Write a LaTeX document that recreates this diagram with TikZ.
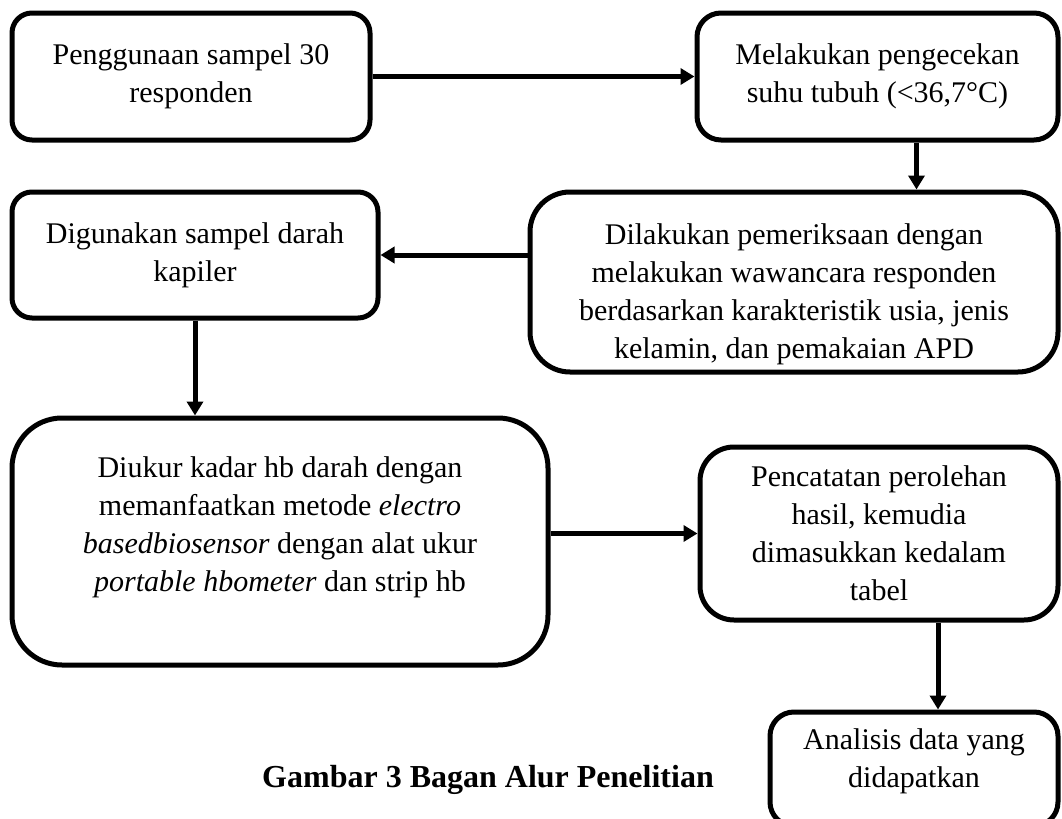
\documentclass[tikz,border=0pt]{standalone}
\usepackage{fontspec}
\setmainfont{Liberation Serif}
\usetikzlibrary{arrows.meta, positioning, calc}

\begin{document}
\begin{tikzpicture}[x=0.5pt, y=-0.5pt]
\tikzset{
  box/.style={rectangle,draw=black,line width=2.5pt,fill=white,align=center,inner sep=0pt,font=\fontsize{15}{19}\selectfont},
  txt/.style={align=center,inner sep=0pt,font=\fontsize{15}{19}\selectfont},
  ar/.style={-{Triangle[length=7pt,width=8pt]},line width=2.5pt,draw=black},
  capt/.style={font=\fontsize{16}{19}\selectfont\bfseries}
}
\useasboundingbox (0,0) rectangle (1062,819);
\clip (0,0) rectangle (1062,819);
% ---- top row
\node[box,rounded corners=10pt,minimum width=179pt,minimum height=63.5pt] (samp) at (191,76.5) {Penggunaan sampel 30\\responden};
\node[box,rounded corners=12pt,minimum width=180.5pt,minimum height=63.5pt] (suhu) at (877.5,76.5) {Melakukan pengecekan\\suhu tubuh (<36,7°C)};
% ---- second row
\node[box,rounded corners=20pt,minimum width=264pt,minimum height=90pt] (waw) at (794,282) {};
\node[txt] (wawt) at ([yshift=-6pt]waw.center) {Dilakukan pemeriksaan dengan\\melakukan wawancara responden\\berdasarkan karakteristik usia, jenis\\kelamin, dan pemakaian APD};
\node[box,rounded corners=10pt,minimum width=183pt,minimum height=63pt] (kap) at (195,255) {Digunakan sampel darah\\kapiler};
% ---- third row
\node[box,rounded corners=25pt,minimum width=268pt,minimum height=123.5pt] (hb) at (280,541.5) {};
\node[txt] (hbt) at ([yshift=7pt]hb.center) {Diukur kadar hb darah dengan\\memanfaatkan metode \textit{electro}\\\textit{basedbiosensor} dengan alat ukur\\\textit{portable hbometer} dan strip hb};
\node[box,rounded corners=17pt,minimum width=179pt,minimum height=86.5pt] (catat) at (879,533.5) {Pencatatan perolehan\\hasil, kemudia\\dimasukkan kedalam\\tabel};
\node[box,rounded corners=12pt,minimum width=144pt,minimum height=57pt] (anal) at (914,769) {};
\node[txt] (analt) at ([yshift=4pt]anal.center) {Analisis data yang\\didapatkan};
% ---- caption
\node[capt] (judul) at (488,780) {Gambar 3 Bagan Alur Penelitian};
% ---- arrows
\draw[ar] (samp.east) -- (suhu.west);
\draw[ar] ([xshift=19.5pt]suhu.south) -- ([xshift=19.5pt]suhu.south |- waw.north);
\draw[ar] (waw.west |- kap.east) -- (kap.east);
\draw[ar] (kap.south) -- (kap.south |- hb.north);
\draw[ar] (hb.east |- catat.west) -- (catat.west);
\draw[ar] ([xshift=12pt]anal.north |- catat.south) -- ([xshift=12pt]anal.north);
\end{tikzpicture}
\end{document}
